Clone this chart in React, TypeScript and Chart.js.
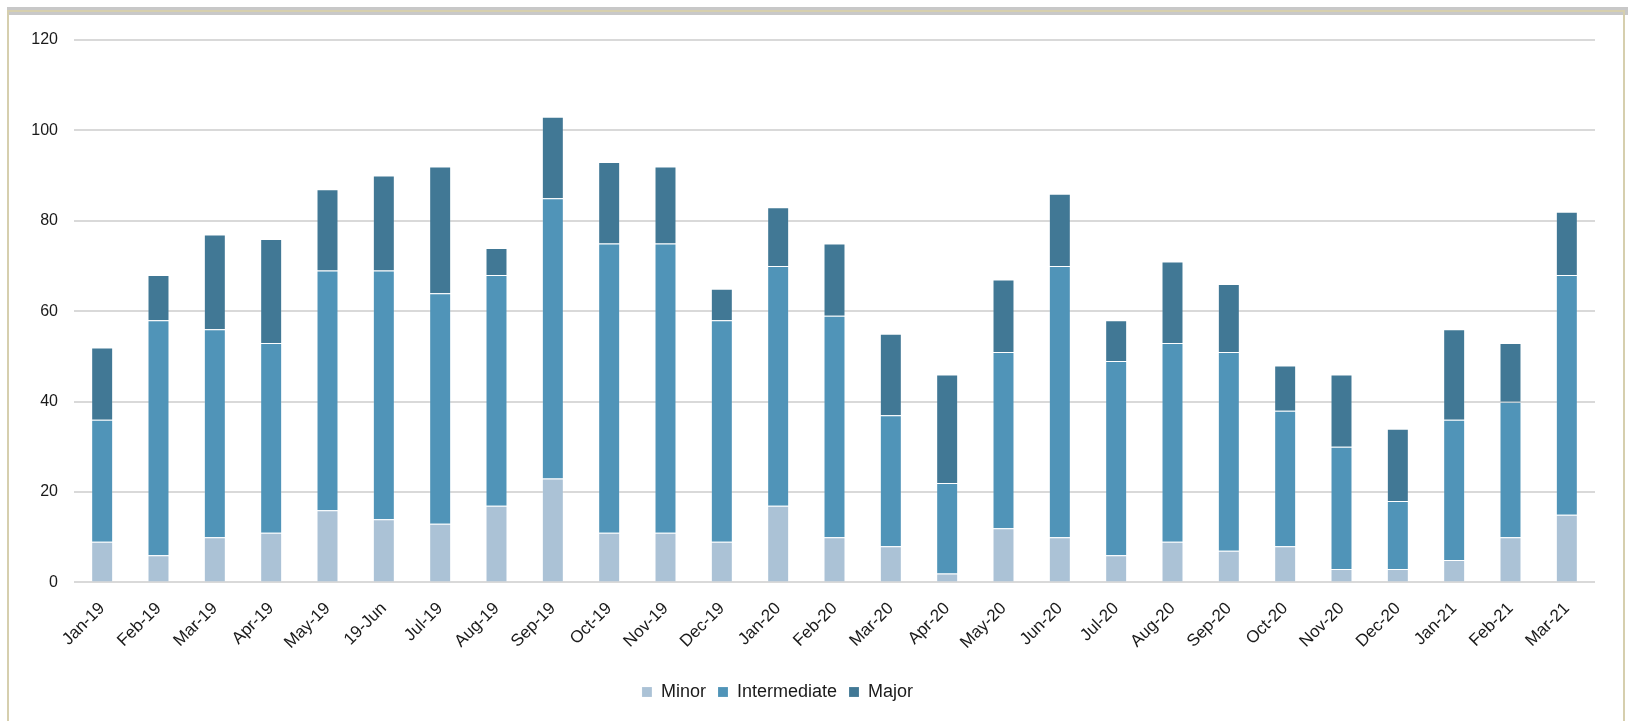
import React, { useEffect, useRef } from "react";
import { Chart, registerables } from "chart.js";

Chart.register(...registerables);

const categories = [
  "Jan-19", "Feb-19", "Mar-19", "Apr-19", "May-19", "19-Jun", "Jul-19", "Aug-19", "Sep-19",
  "Oct-19", "Nov-19", "Dec-19", "Jan-20", "Feb-20", "Mar-20", "Apr-20", "May-20", "Jun-20",
  "Jul-20", "Aug-20", "Sep-20", "Oct-20", "Nov-20", "Dec-20", "Jan-21", "Feb-21", "Mar-21",
];

const minorValues = [9, 6, 10, 11, 16, 14, 13, 17, 23, 11, 11, 9, 17, 10, 8, 2, 12, 10, 6, 9, 7, 8, 3, 3, 5, 10, 15];
const intermediateValues = [27, 52, 46, 42, 53, 55, 51, 51, 62, 64, 64, 49, 53, 49, 29, 20, 39, 60, 43, 44, 44, 30, 27, 15, 31, 30, 53];
const majorValues = [16, 10, 21, 23, 18, 21, 28, 6, 18, 18, 17, 7, 13, 16, 18, 24, 16, 16, 9, 18, 15, 10, 16, 16, 20, 13, 14];

const yTicks = [0, 20, 40, 60, 80, 100, 120];

const FONT = "'Liberation Sans', Arial, sans-serif";

const legendShift = {
  id: "legendShift",
  afterLayout(chart: any) {
    if (chart.legend) {
      chart.legend.left -= 20;
      chart.legend.right -= 20;
    }
  },
};

export default function App() {
  const ref = useRef<HTMLCanvasElement | null>(null);

  useEffect(() => {
    if (!ref.current) return;
    const common = {
      borderColor: "rgba(255,255,255,0.15)",
      borderWidth: 1,
      barPercentage: 0.39,
      categoryPercentage: 1,
    };
    const chart = new Chart(ref.current, {
      type: "bar",
      data: {
        labels: categories,
        datasets: [
          { label: "Minor", data: minorValues, backgroundColor: "#ABC2D6", ...common },
          { label: "Intermediate", data: intermediateValues, backgroundColor: "#5094B8", ...common },
          { label: "Major", data: majorValues, backgroundColor: "#417895", ...common },
        ],
      },
      options: {
        animation: false,
        responsive: false,
        maintainAspectRatio: false,
        layout: { padding: { top: 40, left: 0, right: 33, bottom: 10 } },
        plugins: {
          tooltip: { enabled: false },
          legend: {
            position: "bottom",
            labels: {
              boxWidth: 10,
              boxHeight: 10,
              padding: 12,
              color: "#1a1a1a",
              font: { family: FONT, size: 18 },
            },
          },
        },
        scales: {
          x: {
            stacked: true,
            grid: { display: false, drawTicks: false },
            border: { display: false },
            afterFit(scale: any) {
              scale.paddingLeft = 0;
              scale.paddingRight = 0;
              scale.height += 2;
            },
            ticks: {
              color: "#1a1a1a",
              font: { family: FONT, size: 17 },
              maxRotation: 45,
              minRotation: 45,
              padding: 16,
              autoSkip: false,
            },
          },
          y: {
            stacked: true,
            min: 0,
            max: 120,
            afterBuildTicks(axis: any) {
              axis.ticks = yTicks.map((v) => ({ value: v }));
            },
            afterFit(scale: any) {
              scale.width = 74;
            },
            grid: { color: "#D9D9D9", lineWidth: 2, drawTicks: false },
            border: { display: false },
            ticks: {
              color: "#1a1a1a",
              font: { family: FONT, size: 16 },
              padding: 16,
            },
          },
        },
      },
      plugins: [legendShift],
    });
    return () => chart.destroy();
  }, []);

  return (
    <div style={{ position: "absolute", left: 0, top: 0, width: 1628, height: 721, background: "#fff", overflow: "hidden" }}>
      <div style={{ position: "absolute", left: 7, top: 7, right: 0, height: 8, background: "#C8C8C8" }} />
      <div style={{ position: "absolute", left: 7, top: 10, right: 3, height: 2, background: "#D6CFAE" }} />
      <div style={{ position: "absolute", left: 7, top: 10, width: 2, bottom: 0, background: "#D6CFAE" }} />
      <div style={{ position: "absolute", left: 1623, top: 10, width: 2, bottom: 0, background: "#D6CFAE" }} />
      <canvas ref={ref} width={1628} height={721} style={{ position: "absolute", left: 0, top: 0, width: 1628, height: 721 }} />
    </div>
  );
}
